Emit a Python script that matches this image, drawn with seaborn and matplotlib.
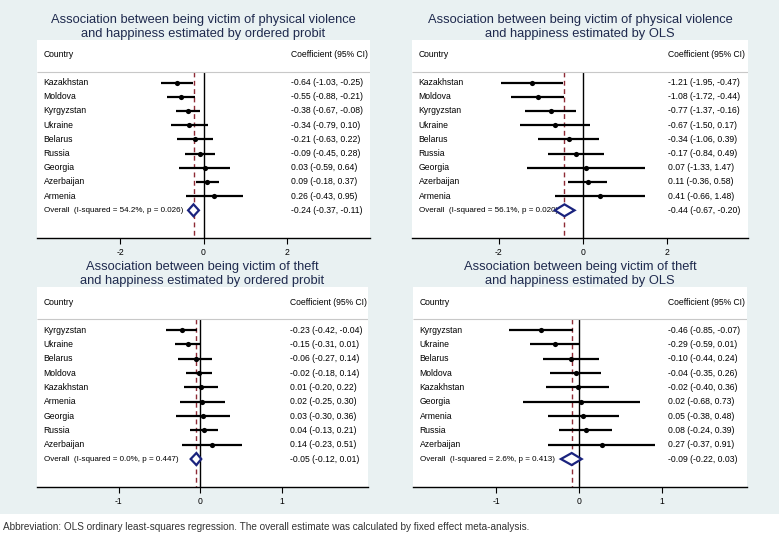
import matplotlib
matplotlib.use('Agg')
import matplotlib.pyplot as plt
from matplotlib.patches import Polygon, Rectangle
import seaborn as sns
import pandas as pd

# 数据: 四个森林图
titles = [
    "Association between being victim of physical violence\nand happiness estimated by ordered probit",
    "Association between being victim of physical violence\nand happiness estimated by OLS",
    "Association between being victim of theft\nand happiness estimated by ordered probit",
    "Association between being victim of theft\nand happiness estimated by OLS",
]

countries_pv_op = ["Kazakhstan", "Moldova", "Kyrgyzstan", "Ukraine", "Belarus", "Russia", "Georgia", "Azerbaijan", "Armenia"]
coef_pv_op = [-0.64, -0.55, -0.38, -0.34, -0.21, -0.09, 0.03, 0.09, 0.26]
lo_pv_op = [-1.03, -0.88, -0.67, -0.79, -0.63, -0.45, -0.59, -0.18, -0.43]
hi_pv_op = [-0.25, -0.21, -0.08, 0.10, 0.22, 0.28, 0.64, 0.37, 0.95]
overall_pv_op = [-0.24, -0.37, -0.11, 54.2, 0.026]

countries_pv_ols = ["Kazakhstan", "Moldova", "Kyrgyzstan", "Ukraine", "Belarus", "Russia", "Georgia", "Azerbaijan", "Armenia"]
coef_pv_ols = [-1.21, -1.08, -0.77, -0.67, -0.34, -0.17, 0.07, 0.11, 0.41]
lo_pv_ols = [-1.95, -1.72, -1.37, -1.50, -1.06, -0.84, -1.33, -0.36, -0.66]
hi_pv_ols = [-0.47, -0.44, -0.16, 0.17, 0.39, 0.49, 1.47, 0.58, 1.48]
overall_pv_ols = [-0.44, -0.67, -0.20, 56.1, 0.020]

countries_th_op = ["Kyrgyzstan", "Ukraine", "Belarus", "Moldova", "Kazakhstan", "Armenia", "Georgia", "Russia", "Azerbaijan"]
coef_th_op = [-0.23, -0.15, -0.06, -0.02, 0.01, 0.02, 0.03, 0.04, 0.14]
lo_th_op = [-0.42, -0.31, -0.27, -0.18, -0.20, -0.25, -0.30, -0.13, -0.23]
hi_th_op = [-0.04, 0.01, 0.14, 0.14, 0.22, 0.30, 0.36, 0.21, 0.51]
overall_th_op = [-0.05, -0.12, 0.01, 0.0, 0.447]

countries_th_ols = ["Kyrgyzstan", "Ukraine", "Belarus", "Moldova", "Kazakhstan", "Georgia", "Armenia", "Russia", "Azerbaijan"]
coef_th_ols = [-0.46, -0.29, -0.10, -0.04, -0.02, 0.02, 0.05, 0.08, 0.27]
lo_th_ols = [-0.85, -0.59, -0.44, -0.35, -0.40, -0.68, -0.38, -0.24, -0.37]
hi_th_ols = [-0.07, 0.01, 0.24, 0.26, 0.36, 0.73, 0.48, 0.39, 0.91]
overall_th_ols = [-0.09, -0.22, 0.03, 2.6, 0.413]

xticks_wide = [-2, 0, 2]
xticks_narrow = [-1, 0, 1]

footnote = ("Abbreviation: OLS ordinary least-squares regression. "
            "The overall estimate was calculated by fixed effect meta-analysis.")

panels = [
    (countries_pv_op, coef_pv_op, lo_pv_op, hi_pv_op, overall_pv_op, (-4, 4), xticks_wide),
    (countries_pv_ols, coef_pv_ols, lo_pv_ols, hi_pv_ols, overall_pv_ols, (-4.07, 3.93), xticks_wide),
    (countries_th_op, coef_th_op, lo_th_op, hi_th_op, overall_th_op, (-2.0, 2.05), xticks_narrow),
    (countries_th_ols, coef_th_ols, lo_th_ols, hi_th_ols, overall_th_ols, (-2.0, 2.02), xticks_narrow),
]

# 坐标区位置 (像素 -> 图形比例)
W, H = 779, 543
boxes = [(37, 40, 370, 238), (412, 40, 748, 238), (37, 287, 368, 487), (413, 287, 747, 487)]

sns.set_theme(style="white")
plt.rcParams['font.family'] = ['Liberation Sans', 'DejaVu Sans']

BG = "#E9F1F2"
NAVY = "#1F2A4E"
fig = plt.figure(figsize=(W / 100, H / 100), dpi=100, facecolor=BG)
# 底部白色注释条
fig.patches.append(Rectangle((0, 0), 1, 29 / H, transform=fig.transFigure,
                             facecolor="white", edgecolor="none", zorder=0))

for (names, coef, lo, hi, ov, xlim, ticks), (x0, y0, x1, y1), title in zip(panels, boxes, titles):
    ax = fig.add_axes([x0 / W, 1 - y1 / H, (x1 - x0) / W, (y1 - y0) / H])
    ax.set_facecolor("white")
    n = len(names)
    df = pd.DataFrame({"country": names, "coef": coef, "lo": lo, "hi": hi, "row": range(n)})

    ylim = (10.95, -3.0)
    header_y, sep_y = -1.95, -0.75

    # 参考线
    ax.vlines(0, sep_y, ylim[0], color="black", lw=1.0, zorder=2)
    ax.vlines(ov[0], sep_y, ylim[0], color="#8E2A35", lw=1.0, linestyles=(0, (3.5, 2.5)), zorder=2)
    ax.hlines(sep_y, xlim[0], xlim[1], color="#C8C8C8", lw=0.8)

    # 置信区间与点估计
    ax.hlines(df["row"], df["lo"], df["hi"], color="black", lw=1.6, zorder=3)
    sns.scatterplot(data=df, x="coef", y="row", ax=ax, color="black", s=14,
                    edgecolor="black", linewidth=0, zorder=4)

    # 总体效应菱形
    d = Polygon([(ov[1], n), (ov[0], n - 0.42), (ov[2], n), (ov[0], n + 0.42)],
                closed=True, facecolor="white", edgecolor="#1A237E", lw=1.6, zorder=5)
    ax.add_patch(d)

    # 文本
    txt = dict(fontsize=6.2, color="black", va="center", transform=ax.get_yaxis_transform())
    ax.text(0.02, header_y, "Country", **txt)
    ax.text(0.763, header_y, "Coefficient (95% CI)", **txt)
    for i, row in df.iterrows():
        ax.text(0.02, row["row"], row["country"], **txt)
        ax.text(0.763, row["row"], f"{row['coef']:.2f} ({row['lo']:.2f}, {row['hi']:.2f})", **txt)
    ax.text(0.02, n, f"Overall  (I-squared = {ov[3]:.1f}%, p = {ov[4]:.3f})",
            **{**txt, "fontsize": 5.8})
    ax.text(0.763, n, f"{ov[0]:.2f} ({ov[1]:.2f}, {ov[2]:.2f})", **txt)

    ax.set_xlim(xlim)
    ax.set_ylim(ylim)
    ax.set_xticks(ticks)
    ax.set_xticklabels([str(t) for t in ticks], fontsize=6.2)
    ax.set_yticks([])
    ax.set_xlabel("")
    ax.set_ylabel("")
    for s in ["top", "left", "right"]:
        ax.spines[s].set_visible(False)
    ax.spines["bottom"].set_color("black")
    ax.spines["bottom"].set_linewidth(1.0)
    ax.tick_params(axis="x", direction="out", length=4, width=0.8, pad=3, colors="black", bottom=True)
    ax.set_title(title, fontsize=9.3, color=NAVY, pad=2, linespacing=1.22)

fig.text(3 / W, 1 - 527 / H, footnote, fontsize=7.2, color="#333333", va="center", ha="left")

plt.savefig("out.png", dpi=100, facecolor=BG)
plt.close()
